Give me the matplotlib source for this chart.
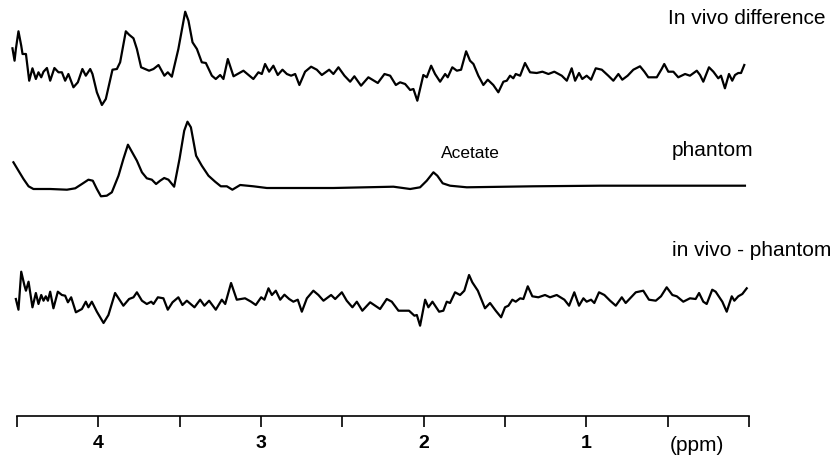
import matplotlib
matplotlib.use("Agg")
import matplotlib.pyplot as plt
import numpy as np

plt.rcParams['font.family'] = ['Liberation Sans', 'DejaVu Sans']

# ---------------- data (chemical shift in ppm, intensity in arbitrary units) -------------
invivo_ppm = [4.528, 4.515, 4.507, 4.491, 4.474, 4.466, 4.445, 4.425, 4.405, 4.384, 4.368, 4.351,
              4.337, 4.316, 4.296, 4.270, 4.245, 4.224, 4.204, 4.184, 4.153, 4.126, 4.098, 4.077,
              4.050, 4.036, 4.009, 3.978, 3.954, 3.913, 3.886, 3.866, 3.831, 3.811, 3.784, 3.763,
              3.737, 3.712, 3.688, 3.661, 3.630, 3.594, 3.573, 3.548, 3.508, 3.466, 3.446, 3.421,
              3.394, 3.364, 3.339, 3.302, 3.278, 3.251, 3.231, 3.204, 3.169, 3.108, 3.047, 3.016,
              2.995, 2.975, 2.950, 2.924, 2.897, 2.868, 2.841, 2.815, 2.790, 2.764, 2.729, 2.692,
              2.657, 2.626, 2.581, 2.555, 2.524, 2.487, 2.452, 2.426, 2.385, 2.340, 2.282, 2.241,
              2.206, 2.171, 2.145, 2.114, 2.083, 2.063, 2.039, 2.002, 1.981, 1.954, 1.930, 1.899,
              1.868, 1.852, 1.824, 1.796, 1.770, 1.739, 1.715, 1.694, 1.664, 1.633, 1.606, 1.572,
              1.541, 1.510, 1.489, 1.469, 1.449, 1.434, 1.407, 1.377, 1.346, 1.305, 1.270, 1.233,
              1.197, 1.151, 1.120, 1.090, 1.069, 1.045, 1.025, 0.998, 0.971, 0.942, 0.905, 0.865,
              0.834, 0.803, 0.779, 0.746, 0.711, 0.670, 0.643, 0.619, 0.567, 0.537, 0.521, 0.496,
              0.465, 0.435, 0.393, 0.363, 0.321, 0.301, 0.281, 0.246, 0.219, 0.189, 0.172, 0.148,
              0.123, 0.103, 0.086, 0.066, 0.049, 0.029]
invivo_int = [26.7, 14.3, 26.0, 43.7, 29.3, 21.0, 21.0, -5.7, 6.7, -4.0, 2.7, -2.3,
              3.3, 7.0, -5.7, 7.0, 2.7, 2.7, -5.7, 1.0, -12.3, -7.3, 6.0, -0.7,
              6.0, 1.0, -17.3, -30.0, -24.0, 5.3, 6.0, 12.7, 43.7, 40.3, 36.7, 26.0,
              7.7, 6.0, 4.3, 6.0, 10.0, -0.7, 2.7, -1.7, 26.0, 63.3, 54.3, 32.7,
              26.0, 12.7, 12.0, -0.7, -4.0, 0.0, -4.0, 16.0, -1.3, 4.3, -4.0, 2.7,
              1.0, 11.0, 3.3, 9.3, 0.0, 5.3, 1.0, -0.7, 1.0, -10.0, 3.3, 8.3,
              5.3, 0.0, 5.3, 1.0, 7.7, -0.7, -6.7, -1.3, -10.7, -2.3, -8.0, 1.0,
              -0.7, -10.0, -7.3, -9.0, -15.0, -14.0, -25.7, 0.0, -2.3, 9.3, 1.0, -6.7,
              1.0, -2.3, 7.7, 4.3, 5.3, 23.7, 14.3, 11.0, -0.7, -10.0, -4.7, -10.0,
              -17.3, -6.7, -5.7, -0.7, -3.3, 1.0, -0.7, 12.0, 2.7, 2.0, 3.3, 1.0,
              3.3, -0.7, -5.7, 6.7, -5.7, 2.0, -4.0, -0.7, -4.7, 6.7, 5.3, -0.7,
              -5.7, 1.0, -4.7, -0.7, 5.3, 8.7, 3.3, -2.3, -2.3, 6.0, 11.0, 3.3,
              3.3, -2.3, 1.0, -0.7, 4.3, 0.0, -6.7, 7.7, 3.3, -3.3, -0.7, -13.3,
              1.0, -5.7, 0.0, 2.0, 2.0, 10.0]

phantom_ppm = [4.522, 4.491, 4.460, 4.429, 4.399, 4.296, 4.193, 4.142, 4.101, 4.061, 4.034, 4.009,
               3.984, 3.948, 3.917, 3.876, 3.846, 3.818, 3.794, 3.763, 3.732, 3.702, 3.671, 3.645,
               3.620, 3.595, 3.569, 3.534, 3.501, 3.472, 3.452, 3.431, 3.399, 3.364, 3.323, 3.282,
               3.247, 3.210, 3.176, 3.128, 3.047, 2.964, 2.555, 2.186, 2.083, 2.022, 1.981, 1.940,
               1.916, 1.883, 1.838, 1.735, 1.326, 0.916, 0.506, 0.025]
phantom_int = [25.2, 16.8, 8.5, 1.2, -1.5, -1.5, -2.2, -0.8, 3.5, 7.8, 6.8, -1.5,
               -8.8, -8.2, -4.8, 11.8, 28.5, 42.8, 35.8, 26.8, 15.2, 9.2, 7.8, 3.5,
               6.8, 9.5, 7.8, 0.8, 28.5, 56.8, 65.8, 60.2, 31.8, 21.8, 11.8, 5.8,
               1.2, 1.2, -2.2, 2.5, 1.2, -0.5, -0.5, 0.8, -1.5, 0.2, 6.8, 15.2,
               11.8, 4.2, 1.8, 0.2, 1.2, 1.8, 1.8, 1.8]

resid_ppm = [4.507, 4.491, 4.474, 4.454, 4.445, 4.429, 4.405, 4.384, 4.368, 4.351, 4.337, 4.323,
             4.310, 4.296, 4.276, 4.249, 4.224, 4.204, 4.187, 4.167, 4.138, 4.101, 4.077, 4.061,
             4.040, 4.009, 3.968, 3.938, 3.897, 3.866, 3.846, 3.811, 3.784, 3.763, 3.732, 3.702,
             3.675, 3.661, 3.634, 3.600, 3.573, 3.544, 3.508, 3.483, 3.456, 3.409, 3.374, 3.348,
             3.319, 3.278, 3.241, 3.220, 3.184, 3.149, 3.098, 3.061, 3.032, 2.999, 2.979, 2.954,
             2.933, 2.909, 2.882, 2.856, 2.827, 2.801, 2.774, 2.749, 2.718, 2.678, 2.647, 2.616,
             2.569, 2.544, 2.503, 2.473, 2.438, 2.411, 2.377, 2.329, 2.268, 2.227, 2.196, 2.155,
             2.125, 2.090, 2.057, 2.042, 2.022, 1.991, 1.971, 1.946, 1.905, 1.879, 1.858, 1.838,
             1.807, 1.776, 1.750, 1.721, 1.701, 1.667, 1.623, 1.592, 1.557, 1.524, 1.500, 1.479,
             1.455, 1.434, 1.407, 1.387, 1.360, 1.332, 1.295, 1.254, 1.223, 1.182, 1.135, 1.106,
             1.074, 1.045, 1.018, 0.998, 0.971, 0.951, 0.922, 0.889, 0.854, 0.819, 0.782, 0.758,
             0.725, 0.696, 0.650, 0.615, 0.573, 0.541, 0.506, 0.471, 0.444, 0.404, 0.363, 0.328,
             0.307, 0.281, 0.260, 0.226, 0.205, 0.178, 0.164, 0.137, 0.106, 0.090, 0.066, 0.041,
             0.014]
resid_int = [1.0, -9.7, 28.3, 14.3, 9.3, 18.3, -7.3, 7.0, -4.0, 5.0, -0.7, 3.7,
             -0.7, 8.3, -8.3, 8.3, 5.0, 4.3, -2.3, 2.7, -12.3, -9.0, -1.7, -7.3,
             -1.7, -11.7, -23.0, -15.0, 7.0, -0.7, -5.7, 1.0, 2.7, 7.7, -0.7, -4.0,
             -1.7, -4.0, 2.7, 1.7, -9.7, -2.3, 2.7, -5.0, -0.7, -7.3, 0.3, -5.7,
             -0.7, -9.7, 0.3, -4.0, 17.0, 0.3, 1.7, -1.7, -5.0, 2.7, 0.3, 11.7,
             5.0, 9.3, 0.3, 5.3, 1.0, -1.7, 0.3, -11.7, 1.7, 9.3, 5.0, -0.7,
             5.0, 1.0, 7.7, -0.7, -7.3, -1.7, -10.7, -2.3, -9.0, 1.0, -1.7, -10.7,
             -10.7, -10.7, -15.7, -15.0, -25.7, 0.3, -7.3, -1.7, -11.7, -10.7, -1.7, -3.0,
             7.7, 5.0, 9.3, 25.0, 17.7, 9.3, -8.3, -3.0, -10.7, -17.3, -7.3, -5.7,
             0.3, -1.7, 1.7, 1.0, 13.7, 3.7, 2.7, 5.0, 2.7, 5.0, 0.3, -5.7,
             7.7, -5.7, 1.7, -1.7, 0.3, -3.0, 7.7, 5.0, -0.7, -5.7, 2.7, -3.0,
             2.7, 7.7, 9.3, 0.3, -0.7, 3.7, 12.7, 5.0, 3.7, -1.7, 1.7, 1.0,
             7.0, -1.7, -4.0, 10.3, 8.3, 1.7, -1.7, -11.7, 3.7, -0.7, 3.7, 6.0,
             11.7]

trace_labels = ["In vivo difference", "phantom", "in vivo - phantom"]
tick_values = [4.5, 4.0, 3.5, 3.0, 2.5, 2.0, 1.5, 1.0, 0.5, 0.0]
tick_labels = ["", "4", "", "3", "", "2", "", "1", "", ""]
acetate_label = "Acetate"
axis_label = "(ppm)"

# ---------------- layout / style -------------
W, H = 834, 456
fig = plt.figure(figsize=(W / 100, H / 100), dpi=100)
ax = fig.add_axes([17 / W, 39 / H, (749 - 17) / W, 417 / H])
ax.set_xlim(4.5, 0.0)
ax.set_ylim(0, 417)

offsets = [341.0, 228.5, 116.0]
series = [(invivo_ppm, invivo_int), (phantom_ppm, phantom_int), (resid_ppm, resid_int)]
for (xs, ys), off in zip(series, offsets):
    ax.plot(xs, np.asarray(ys) + off, color="black", lw=1.6, clip_on=False,
            solid_joinstyle="round")

label_pos = [(0.50, 399), (0.475, 266), (0.475, 166)]
for txt, (lx, ly) in zip(trace_labels, label_pos):
    ax.text(lx, ly, txt, ha="left", va="center", fontsize=15, color="black")

ax.text(1.715, 264, acetate_label, ha="center", va="center", fontsize=12.5,
        color="black")

for s in ["top", "right", "left"]:
    ax.spines[s].set_visible(False)
ax.spines["bottom"].set_linewidth(1.2)
ax.set_yticks([])
ax.set_xticks(tick_values)
ax.set_xticklabels(tick_labels, fontsize=14, fontweight="bold")
ax.tick_params(axis="x", direction="out", length=8, width=1.2, pad=5)

ax.text(0.32, -29, axis_label, ha="center", va="center", fontsize=15,
        clip_on=False)

fig.savefig("out.png", dpi=100)
